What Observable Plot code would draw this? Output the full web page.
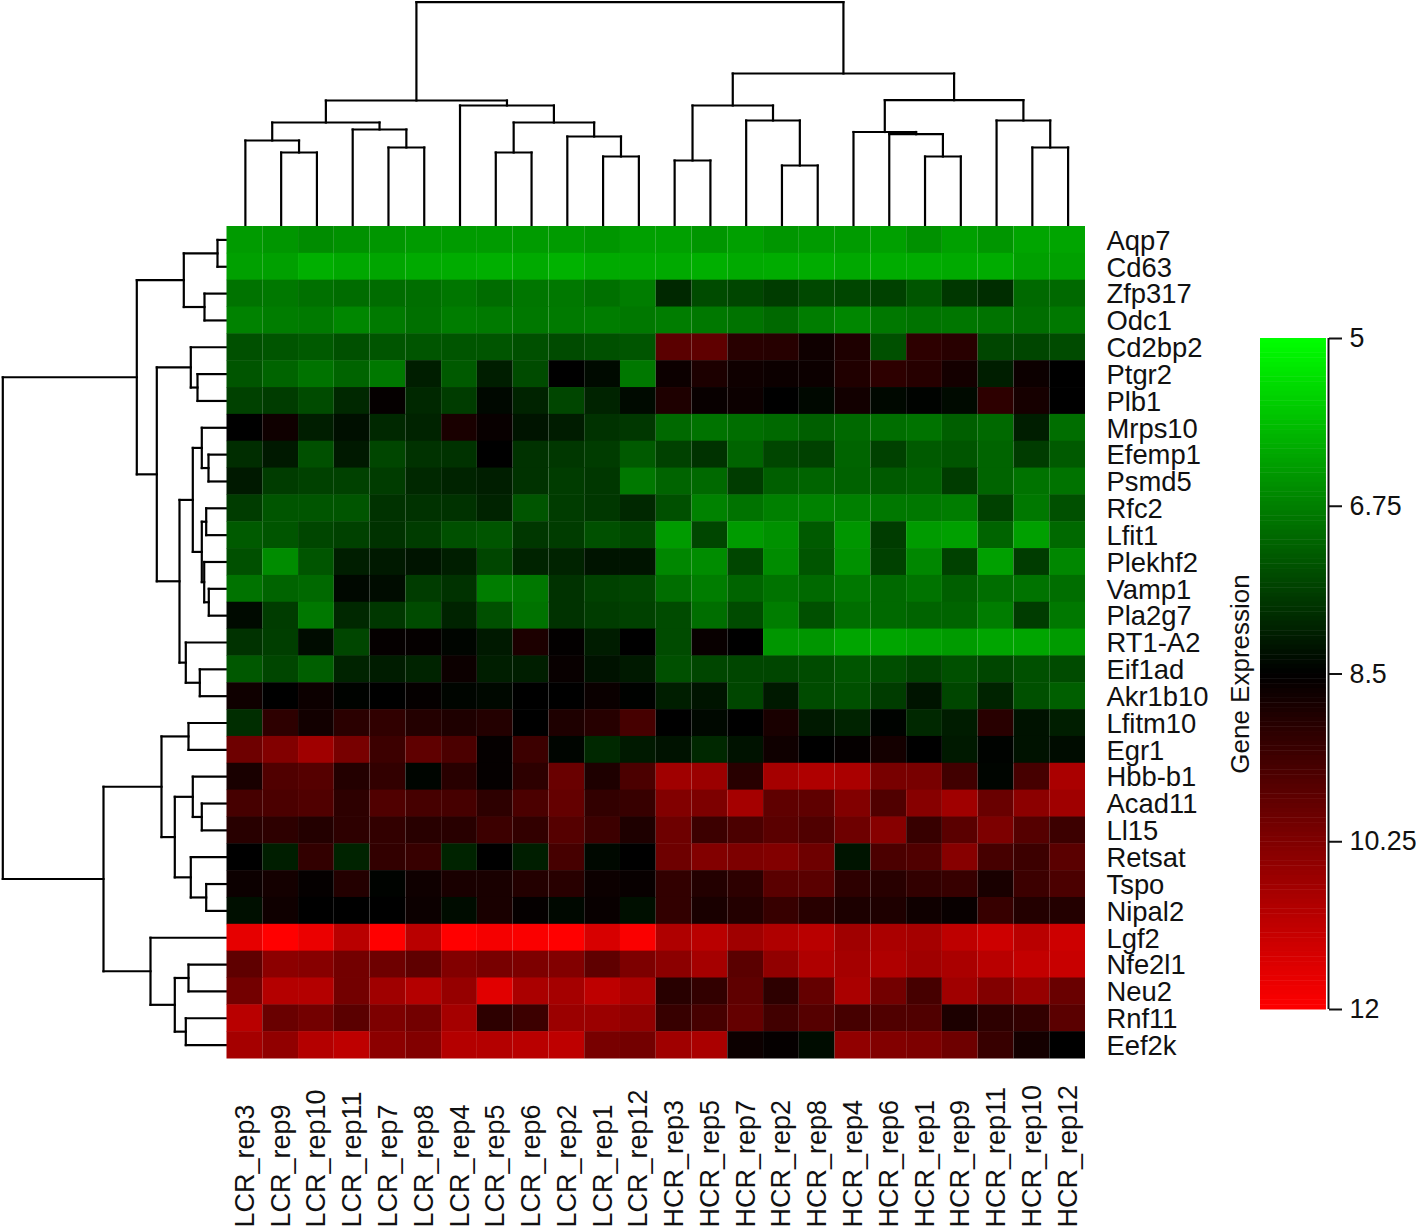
<!DOCTYPE html>
<html>
<head>
<meta charset="utf-8">
<script src="https://cdn.jsdelivr.net/npm/d3@7"></script>
<script src="https://cdn.jsdelivr.net/npm/@observablehq/plot@0.6"></script>
<style>
  html, body { margin: 0; padding: 0; background: #fff; }
  #chart { position: relative; width: 1416px; height: 1230px; overflow: hidden; background: #fff; }
  #chart svg { position: absolute; overflow: visible; background: transparent; }
</style>
</head>
<body>
<div id="chart"></div>
<script>
const samples = ["LCR_rep3","LCR_rep9","LCR_rep10","LCR_rep11","LCR_rep7","LCR_rep8","LCR_rep4","LCR_rep5","LCR_rep6","LCR_rep2","LCR_rep1","LCR_rep12",
  "HCR_rep3","HCR_rep5","HCR_rep7","HCR_rep2","HCR_rep8","HCR_rep4","HCR_rep6","HCR_rep1","HCR_rep9","HCR_rep11","HCR_rep10","HCR_rep12"];
const genes = ["Aqp7","Cd63","Zfp317","Odc1","Cd2bp2","Ptgr2","Plb1","Mrps10","Efemp1","Psmd5","Rfc2","Lfit1","Plekhf2","Vamp1","Pla2g7","RT1-A2","Eif1ad","Akr1b10","Lfitm10","Egr1","Hbb-b1","Acad11","Ll15","Retsat","Tspo","Nipal2","Lgf2","Nfe2l1","Neu2","Rnf11","Eef2k"];

const aqp7 = [6.37,6.44,6.58,6.51,6.44,6.37,6.37,6.37,6.37,6.37,6.44,6.30,6.30,6.44,6.30,6.44,6.37,6.37,6.30,6.51,6.30,6.44,6.23,6.23];
const cd63 = [6.30,6.30,6.10,6.19,6.23,6.17,6.14,6.10,6.17,6.06,6.17,6.17,6.17,6.10,6.17,6.14,6.14,6.19,6.14,6.14,6.17,6.14,6.30,6.30];
const zfp317 = [6.92,6.85,6.96,7.02,7.02,6.99,6.88,7.02,6.88,6.85,6.96,6.78,7.95,7.47,7.54,7.68,7.51,7.54,7.61,7.33,7.74,7.88,7.06,7.06];
const odc1 = [6.72,6.78,6.82,6.65,6.82,6.96,6.78,6.82,6.85,6.82,6.78,6.85,6.78,6.85,6.92,7.06,6.78,6.65,6.85,6.92,6.88,6.92,6.99,6.85];
const cd2bp2 = [7.40,7.33,7.26,7.40,7.33,7.33,7.33,7.33,7.40,7.47,7.40,7.33,9.74,9.80,9.05,9.02,8.71,8.91,7.40,9.12,9.05,7.54,7.54,7.47];
const ptgr2 = [7.33,7.13,6.92,7.13,6.85,8.09,7.26,8.09,7.47,8.50,8.36,6.85,8.66,8.88,8.71,8.66,8.66,8.94,9.12,9.02,8.77,8.09,8.66,8.50];
const plb1 = [7.61,7.68,7.47,7.95,8.57,7.95,7.68,8.39,8.02,7.54,8.02,8.36,8.91,8.61,8.66,8.50,8.39,8.75,8.39,8.46,8.36,9.12,8.80,8.50];
const mrps10 = [8.50,8.71,8.09,8.29,7.95,8.02,8.84,8.61,8.23,8.12,7.81,7.74,7.06,6.92,6.99,7.06,7.20,7.06,6.99,6.92,7.20,7.06,8.09,6.99];
const efemp1 = [7.88,8.16,7.40,8.16,7.54,7.81,7.81,8.50,7.81,7.74,7.68,7.26,7.61,7.81,7.13,7.54,7.61,7.13,7.61,7.26,7.33,7.13,7.68,7.26];
const psmd5 = [8.16,7.68,7.61,7.61,7.68,7.95,8.02,8.09,7.81,7.68,7.74,6.85,7.13,7.06,7.68,7.20,7.13,7.15,7.26,7.20,7.68,7.13,6.92,6.92];
const rfc2 = [7.68,7.33,7.33,7.33,7.81,7.81,7.81,8.02,7.33,7.68,7.74,7.95,7.40,6.72,6.92,6.74,6.72,6.74,6.85,6.85,6.78,7.61,6.85,7.40];
const lfit1 = [7.26,7.33,7.54,7.61,7.81,7.68,7.40,7.33,7.74,7.68,7.40,7.54,6.37,7.54,6.37,6.51,7.26,6.44,7.68,6.37,6.30,7.13,6.30,7.06];
const plekhf2 = [7.40,6.58,7.33,8.09,8.16,8.23,8.09,7.54,8.02,8.02,8.23,8.23,6.65,6.58,7.54,6.58,7.33,6.51,7.61,6.65,7.61,6.30,7.68,6.65];
const vamp1 = [6.92,7.13,7.06,8.39,8.34,7.68,7.81,6.78,6.85,7.81,7.61,7.54,6.99,6.78,7.13,6.92,7.06,6.85,7.06,6.92,7.20,6.99,6.92,6.99];
const pla2g7 = [8.36,7.68,6.85,7.95,7.74,7.47,8.02,7.40,6.92,7.81,7.68,7.61,7.47,6.99,7.47,6.78,7.40,6.99,7.06,7.13,7.13,6.78,7.68,6.85];
const rt1a2 = [7.81,7.65,8.34,7.54,8.57,8.57,8.43,8.16,8.88,8.54,8.12,8.50,7.47,8.61,8.50,6.44,6.44,6.23,6.23,6.30,6.37,6.23,6.23,6.37];
const eif1ad = [7.29,7.54,7.20,8.02,8.12,8.02,8.66,8.09,8.09,8.61,8.25,8.16,7.40,7.54,7.54,7.54,7.47,7.33,7.43,7.61,7.40,7.54,7.40,7.47];
const akr1b10 = [8.71,8.50,8.66,8.46,8.50,8.57,8.43,8.39,8.50,8.50,8.64,8.47,8.09,8.23,7.54,8.16,7.47,7.40,7.68,8.23,7.54,8.02,7.40,7.20];
const lfitm10 = [7.88,9.12,8.75,9.08,9.16,8.98,8.91,8.98,8.50,8.91,9.02,9.46,8.50,8.39,8.50,8.84,8.16,8.02,8.46,7.95,8.12,9.05,8.25,8.09];
const egr1 = [10.01,10.28,10.70,10.15,9.32,9.80,9.53,8.57,9.32,8.43,7.95,8.16,8.25,7.95,8.25,8.71,8.50,8.57,8.77,8.50,8.16,8.46,8.25,8.34];
const hbbb1 = [8.84,9.60,9.67,8.98,9.19,8.43,9.05,8.57,9.12,9.94,8.91,9.53,10.70,10.63,9.05,10.77,10.90,10.83,10.15,10.15,9.39,8.43,9.46,10.83];
const acad11 = [9.46,9.53,9.60,9.12,9.60,9.46,9.46,9.12,9.53,9.87,9.19,9.26,10.28,10.22,10.77,9.80,9.80,10.28,9.60,10.35,10.70,9.94,10.42,10.70];
const ll15 = [9.05,9.12,8.98,9.12,9.19,9.05,9.05,9.32,9.19,9.67,9.32,8.91,10.01,9.32,9.53,9.74,9.60,10.01,10.35,9.26,9.74,10.22,9.67,9.32];
const retsat = [8.50,8.09,9.19,8.02,9.19,9.26,8.02,8.50,8.09,9.46,8.39,8.50,10.01,10.28,10.22,10.28,10.01,8.23,9.53,9.60,10.35,9.46,9.32,9.74];
const tspo = [8.66,8.77,8.57,8.98,8.46,8.71,8.84,8.84,8.98,9.05,8.66,8.61,9.19,8.98,9.12,9.74,9.74,9.12,9.05,9.19,9.26,8.84,9.32,9.53];
const nipal2 = [8.29,8.71,8.50,8.50,8.50,8.66,8.34,8.84,8.57,8.39,8.61,8.29,9.19,8.84,8.98,9.26,9.05,8.88,8.91,8.71,8.61,9.26,8.98,8.98];
const lgf2 = [11.66,12,11.73,11.04,12,11.04,12,11.86,11.93,12,11.45,11.93,10.90,11.04,10.70,10.90,11.04,10.70,10.83,10.77,11.11,11.31,11.04,11.31];
const nfe2l1 = [9.80,10.42,10.35,10.08,10.01,9.80,10.28,10.15,10.22,10.28,9.80,10.22,10.42,10.77,9.74,10.49,10.90,10.77,10.90,10.70,10.83,11.04,11.18,11.25];
const neu2 = [10.08,10.97,10.97,10.08,10.70,10.97,10.56,11.59,10.83,10.77,11.11,10.83,9.05,9.19,9.80,9.12,9.87,10.83,10.08,9.46,10.70,10.28,10.56,9.94];
const rnf11 = [11.04,9.94,10.08,9.74,10.22,10.08,10.77,9.12,9.32,10.63,10.63,10.49,9.26,9.46,9.87,9.39,9.67,9.46,9.60,9.60,8.88,9.12,9.19,9.74];
const eef2k = [10.77,10.49,10.97,11.11,10.42,10.28,10.97,10.97,11.04,11.11,10.15,10.08,10.70,10.83,8.66,8.57,8.34,10.49,10.28,10.22,10.01,9.26,8.77,8.50];
const geneRows = [aqp7,cd63,zfp317,odc1,cd2bp2,ptgr2,plb1,mrps10,efemp1,psmd5,rfc2,lfit1,plekhf2,vamp1,pla2g7,rt1a2,eif1ad,akr1b10,lfitm10,egr1,hbbb1,acad11,ll15,retsat,tspo,nipal2,lgf2,nfe2l1,neu2,rnf11,eef2k];

// Dendrograms, hclust style: negative = leaf -(i+1), non-negative = earlier merge index
const colMergeA = [-2,-1,-5,-4,1,-8,-11,-10,5,-7,4,-13,-16,-15,11,-20,-19,-18,-23,-22,17,14,10];
const colMergeB = [-3,0,-6,2,3,-9,-12,6,7,8,9,-14,-17,12,13,-21,15,16,-24,18,19,20,21];
const colMergeH = [74,86,79,97,104,74,70,90,104,121,126,66,61,106,121,70,92.3,94.5,79,106,126.3,153,224.3];
const rowMergeA = [-1,-3,0,-6,-5,-9,-8,-11,-14,-13,7,6,-17,-16,11,4,2,-19,-22,-21,-25,-24,19,17,-28,-30,24,-27,23,16];
const rowMergeB = [-2,-4,1,-7,3,-10,5,-12,-15,8,9,10,-18,12,13,14,15,-20,-23,18,-26,20,21,22,-29,-31,25,26,27,28];
const rowMergeH = [9,22,42.7,29,35.7,18,24.7,20.3,17.7,22.3,24.7,33.7,26.7,40.7,47,69.7,89.7,38,24.7,33.7,20.3,35.7,51.7,65,38,40.7,51.7,76,123,223.7];

const legendTicks = [5,6.75,8.5,10.25,12];
const legendStep = 0.05;
const legendLevels = d3.range(5, 12, legendStep);

const colorScale = {type:"linear", domain:[5,8.5,12], range:["#00ff00","#000000","#ff0000"], interpolate:"rgb"};
const font = "'Liberation Sans', Arial, sans-serif";

function dendroSegments(A, B, H) {
  const pos = [], seg = [];
  const p = c => c < 0 ? -c - 0.5 : pos[c];
  const h = c => c < 0 ? 0 : H[c];
  A.forEach((a, i) => {
    const b = B[i], t = H[i], pa = p(a), pb = p(b);
    pos[i] = (pa + pb) / 2;
    seg.push({p1:pa, h1:h(a), p2:pa, h2:t}, {p1:pa, h1:t, p2:pb, h2:t}, {p1:pb, h1:t, p2:pb, h2:h(b)});
  });
  return seg;
}

const table = geneRows.flatMap((row, r) => row.map((value, c) => ({gene:genes[r], sample:samples[c], value})));

const heat = Plot.plot({
  width:1416, height:1230,
  marginLeft:226.5, marginRight:331, marginTop:226, marginBottom:172,
  style:{fontFamily:font, fontSize:"27px", color:"#111"},
  x:{type:"band", domain:samples, padding:0, round:false, axis:null},
  y:{type:"band", domain:genes, padding:0, round:false, axis:null},
  color:colorScale,
  marks:[
    Plot.cell(table, {x:"sample", y:"gene", fill:"value", insetBottom:-0.5}),
    Plot.axisY(genes, {anchor:"right", tickSize:0, tickPadding:21, dy:1, label:null, fontSize:27.4, fill:"#111"}),
    Plot.text(samples, {x:d=>d, frameAnchor:"bottom", rotate:-90, textAnchor:"start", dx:9, dy:169, fontSize:27, fill:"#111"})
  ]
});
heat.setAttribute("style", heat.getAttribute("style") + ";left:0;top:0");

const colSegs = dendroSegments(colMergeA, colMergeB, colMergeH);
const topDendro = Plot.plot({
  width:858.5, height:226, margin:0,
  x:{domain:[0,samples.length], range:[0,858.5], axis:null},
  y:{domain:[0,226], range:[226,0], axis:null},
  marks:[Plot.link(colSegs, {x1:"p1", y1:"h1", x2:"p2", y2:"h2", stroke:"#000", strokeWidth:2.2, strokeLinecap:"square"})]
});
topDendro.setAttribute("style", topDendro.getAttribute("style") + ";left:226.5px;top:0");

const rowSegs = dendroSegments(rowMergeA, rowMergeB, rowMergeH);
const leftDendro = Plot.plot({
  width:226, height:832, margin:0,
  x:{domain:[226,0], range:[0,226], axis:null},
  y:{domain:[0,genes.length], range:[0,832], axis:null},
  marks:[Plot.link(rowSegs, {x1:"h1", y1:"p1", x2:"h2", y2:"p2", stroke:"#000", strokeWidth:2.2, strokeLinecap:"square"})]
});
leftDendro.setAttribute("style", leftDendro.getAttribute("style") + ";left:0;top:226px");

const legend = Plot.plot({
  width:216, height:710,
  marginLeft:60, marginRight:88, marginTop:18, marginBottom:21,
  style:{fontFamily:font, fontSize:"26.8px", color:"#111"},
  x:{domain:[0,1], axis:null},
  y:{domain:[5,12], reverse:true, axis:null},
  color:colorScale,
  marks:[
    Plot.rect(legendLevels, {x1:0, x2:0.97, y1:d=>d, y2:d=>d+legendStep*1.1, fill:d=>d+legendStep/2}),
    Plot.ruleX([1], {y1:5, y2:12, stroke:"#111", strokeWidth:2}),
    Plot.axisY(legendTicks, {anchor:"right", tickSize:13, tickPadding:8, tickFormat:d=>String(d), label:null, stroke:"#111", strokeWidth:2, fontSize:26.8, fill:"#111"}),
    Plot.text(["Gene Expression"], {frameAnchor:"left", rotate:-90, textAnchor:"middle", dx:-20, fontSize:26, fill:"#111"})
  ]
});
legend.setAttribute("style", legend.getAttribute("style") + ";left:1200px;top:320px");

document.getElementById("chart").append(topDendro, leftDendro, heat, legend);
heat.style.background = "transparent";
</script>
</body>
</html>
